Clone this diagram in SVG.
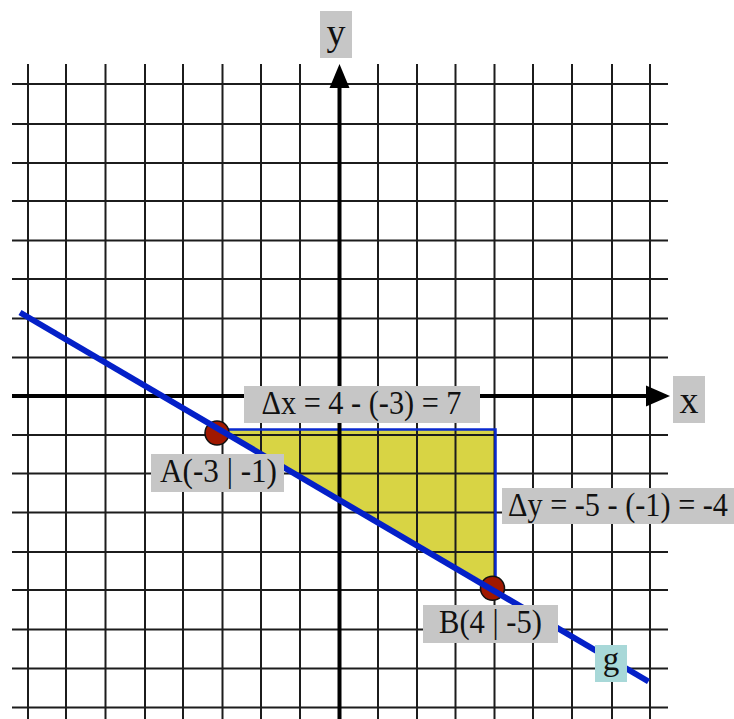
<svg xmlns="http://www.w3.org/2000/svg" width="734" height="719" viewBox="0 0 734 719">
<style>
.grid line{stroke:#1c1c1c;stroke-width:2}
.lbl{fill:#c6c6c6}
.t{font-family:"Liberation Serif","Times New Roman",serif;font-size:33px;fill:#111}
.ax{font-family:"Liberation Serif","Times New Roman",serif;font-size:38px;fill:#111;text-anchor:middle}
.pt{fill:#a01800;stroke:#111;stroke-width:1.5}
</style>
<rect width="734" height="719" fill="#fff"/>
<g id="triangle-fill">
<polygon points="217,430 495,430 495,588" fill="#d8d444"/>
</g>
<g id="grid" class="grid">
<line x1="28" y1="64" x2="28" y2="719"/>
<line x1="66" y1="64" x2="66" y2="719"/>
<line x1="105.5" y1="64" x2="105.5" y2="719"/>
<line x1="145" y1="64" x2="145" y2="719"/>
<line x1="183" y1="64" x2="183" y2="719"/>
<line x1="222.5" y1="64" x2="222.5" y2="719"/>
<line x1="261" y1="64" x2="261" y2="719"/>
<line x1="300" y1="64" x2="300" y2="719"/>
<line x1="378" y1="64" x2="378" y2="719"/>
<line x1="417" y1="64" x2="417" y2="719"/>
<line x1="455.5" y1="64" x2="455.5" y2="719"/>
<line x1="494.5" y1="64" x2="494.5" y2="719"/>
<line x1="533" y1="64" x2="533" y2="719"/>
<line x1="572" y1="64" x2="572" y2="719"/>
<line x1="612" y1="64" x2="612" y2="719"/>
<line x1="650" y1="64" x2="650" y2="719"/>
<line x1="12" y1="84" x2="668" y2="84"/>
<line x1="12" y1="124" x2="668" y2="124"/>
<line x1="12" y1="163" x2="668" y2="163"/>
<line x1="12" y1="201" x2="668" y2="201"/>
<line x1="12" y1="240.5" x2="668" y2="240.5"/>
<line x1="12" y1="279" x2="668" y2="279"/>
<line x1="12" y1="318.5" x2="668" y2="318.5"/>
<line x1="12" y1="357.5" x2="668" y2="357.5"/>
<line x1="12" y1="435" x2="668" y2="435"/>
<line x1="12" y1="473.5" x2="668" y2="473.5"/>
<line x1="12" y1="512.5" x2="668" y2="512.5"/>
<line x1="12" y1="552" x2="668" y2="552"/>
<line x1="12" y1="590" x2="668" y2="590"/>
<line x1="12" y1="629.5" x2="668" y2="629.5"/>
<line x1="12" y1="668.5" x2="668" y2="668.5"/>
<line x1="12" y1="707.5" x2="668" y2="707.5"/>
</g>
<g id="triangle-edges">
<polyline points="228,429.5 495.5,429.5 495.5,582" fill="none" stroke="#0a2ad0" stroke-width="2.5"/>
</g>
<g id="axes">
<line x1="12" y1="396" x2="648" y2="396" stroke="#000" stroke-width="4"/>
<polygon points="646,385.5 670,396 646,406.5" fill="#000"/>
<line x1="339.5" y1="719" x2="339.5" y2="86" stroke="#000" stroke-width="4"/>
<polygon points="329.5,88 339.5,64 349.5,88" fill="#000"/>
</g>
<g id="point-A"><circle class="pt" cx="217" cy="433" r="12"/></g>
<g id="point-B"><circle class="pt" cx="492.5" cy="588.3" r="12"/></g>
<g id="connectors">
<line id="line-g" x1="20" y1="312.5" x2="648.5" y2="681.5" stroke="#0420c8" stroke-width="6"/>
</g>
<g id="label-y">
<rect class="lbl" x="320" y="11" width="32" height="47"/>
<text class="ax" x="336" y="45">y</text>
</g>
<g id="label-x">
<rect class="lbl" x="673" y="376" width="32" height="47"/>
<text class="ax" x="689" y="413">x</text>
</g>
<g id="label-dx">
<rect class="lbl" x="244" y="386" width="236" height="37"/>
<text class="t" x="261.5" y="414" textLength="200" lengthAdjust="spacingAndGlyphs">Δx = 4 - (-3) = 7</text>
</g>
<g id="label-A">
<rect class="lbl" x="151" y="454" width="133" height="38"/>
<text class="t" x="160" y="482" textLength="117" lengthAdjust="spacingAndGlyphs">A(-3 | -1)</text>
</g>
<g id="label-dy">
<rect class="lbl" x="502" y="488" width="232" height="36"/>
<text class="t" x="508" y="516" textLength="220" lengthAdjust="spacingAndGlyphs">Δy = -5 - (-1) = -4</text>
</g>
<g id="label-B">
<rect class="lbl" x="423" y="605" width="135" height="38"/>
<text class="t" x="439" y="633" textLength="103" lengthAdjust="spacingAndGlyphs">B(4 | -5)</text>
</g>
<g id="label-g">
<rect x="595" y="645" width="32" height="37" fill="#a8d8d8"/>
<text class="t" x="611" y="670" text-anchor="middle">g</text>
</g>
</svg>
